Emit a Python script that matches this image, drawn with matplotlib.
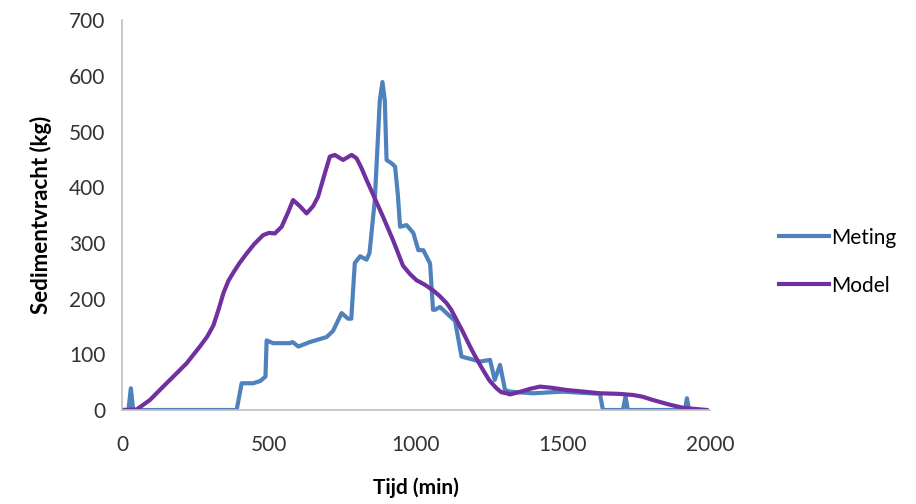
import numpy as np
import matplotlib.pyplot as plt

# measured sediment load (Meting)
t_meting = [0, 22, 30, 38, 44, 390, 407, 446, 470, 488, 492, 514, 571, 580, 600, 639,
            696, 718, 747, 769, 780, 792, 810, 832, 842, 860, 877, 886, 894, 900, 917,
            929, 938, 946, 968, 991, 1008, 1025, 1048, 1058, 1065, 1082, 1104, 1133,
            1155, 1218, 1252, 1268, 1286, 1303, 1320, 1398, 1500, 1626, 1636, 1704,
            1713, 1721, 1915, 1922, 1929, 1988]
v_meting = [0, 0, 39, 0, 0, 0, 48, 48, 52, 60, 125, 120, 120, 122, 114, 122,
            131, 142, 174, 164, 164, 264, 276, 270, 282, 377, 556, 589, 556, 449, 443,
            437, 389, 329, 332, 318, 287, 287, 263, 180, 180, 185, 174, 160,
            96, 87, 90, 54, 81, 36, 33, 30, 33, 29, 0, 0,
            24, 0, 0, 21, 0, 0]

# modelled sediment load (Model)
t_model = [0, 50, 95, 140, 186, 220, 265, 290, 311, 330, 345, 362, 379, 400, 424,
           450, 480, 500, 520, 543, 565, 582, 605, 628, 650, 667, 690, 707, 724, 752,
           781, 798, 815, 832, 860, 888, 922, 956, 980, 1002, 1030, 1058, 1080, 1104,
           1120, 1138, 1160, 1184, 1205, 1228, 1250, 1274, 1290, 1308, 1320, 1350,
           1388, 1422, 1460, 1512, 1570, 1626, 1690, 1738, 1770, 1806, 1860, 1908, 1988]
v_model = [0, 1, 18, 42, 66, 84, 114, 132, 152, 183, 210, 232, 247, 264, 281,
           298, 314, 318, 317, 329, 355, 377, 366, 353, 366, 383, 425, 455, 458, 449,
           458, 452, 434, 413, 380, 347, 305, 259, 244, 233, 225, 215, 205, 192,
           180, 162, 140, 114, 93, 72, 53, 39, 32, 30, 28, 32,
           38, 42, 40, 36, 33, 30, 29, 27, 24, 18, 10, 4, 0]

plt.rcParams['font.family'] = ['Lato', 'DejaVu Sans']

fig = plt.figure(figsize=(9.16, 5.04), dpi=100)
ax = fig.add_axes([0.1332, 0.1865, 0.6418, 0.7735])

ax.plot(t_meting, v_meting, color='#4F81BD', lw=3, label='Meting', solid_joinstyle='round')
ax.plot(t_model, v_model, color='#7030A0', lw=3, label='Model', solid_joinstyle='round')

ax.set_xlim(0, 2000)
ax.set_ylim(0, 700)
ax.set_xticks(np.arange(0, 2001, 500))
ax.set_yticks(np.arange(0, 701, 100))
ax.tick_params(length=0, labelsize=15, colors='#333333')
ax.tick_params(axis='x', pad=18)
ax.tick_params(axis='y', pad=12)

for side in ['top', 'right']:
    ax.spines[side].set_visible(False)
for side in ['left', 'bottom']:
    ax.spines[side].set_color('#BFBFBF')
    ax.spines[side].set_linewidth(1.2)

ax.set_xlabel('Tijd (min)', fontsize=15, fontweight='bold', labelpad=16)
ax.set_ylabel('Sedimentvracht (kg)', fontsize=16, fontweight='bold', labelpad=12)

fig.legend(loc='center left', bbox_to_anchor=(0.83, 0.481), frameon=False,
           fontsize=15, handlelength=2.4, handletextpad=0.1, labelspacing=1.35)

fig.savefig('out.png', dpi=100)
